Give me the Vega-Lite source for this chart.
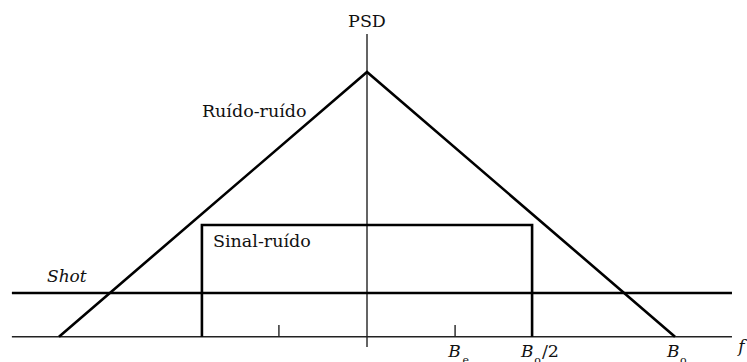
{
  "$schema": "https://vega.github.io/schema/vega-lite/v6.json",
  "width": 747,
  "height": 362,
  "autosize": "none",
  "padding": 0,
  "background": "white",
  "config": {"view": {"stroke": null}},
  "datasets": {
    "axes": [
      {"part": "f-axis", "x": -1.153, "x2": 1.185, "y": 0, "y2": 0},
      {"part": "psd-axis", "x": 0, "x2": 0, "y": -0.039, "y2": 1.144},
      {"part": "tick-neg", "x": -0.286, "x2": -0.286, "y": 0, "y2": 0.044},
      {"part": "tick-Be", "x": 0.286, "x2": 0.286, "y": 0, "y2": 0.044}
    ],
    "curves": [
      {"series": "Ruído-ruído", "ord": 0, "x": -1.0, "y": 0},
      {"series": "Ruído-ruído", "ord": 1, "x": 0, "y": 1.0},
      {"series": "Ruído-ruído", "ord": 2, "x": 1.0, "y": 0},
      {"series": "Sinal-ruído", "ord": 0, "x": -0.536, "y": 0},
      {"series": "Sinal-ruído", "ord": 1, "x": -0.536, "y": 0.422},
      {"series": "Sinal-ruído", "ord": 2, "x": 0.536, "y": 0.422},
      {"series": "Sinal-ruído", "ord": 3, "x": 0.536, "y": 0},
      {"series": "Shot", "ord": 0, "x": -1.153, "y": 0.165},
      {"series": "Shot", "ord": 1, "x": 1.185, "y": 0.165}
    ],
    "title": [
      {"text": "PSD", "x": 0, "y": 1.17}
    ],
    "labels": [
      {"text": "Ruído-ruído", "x": -0.536, "y": 0.83},
      {"text": "Sinal-ruído", "x": -0.5, "y": 0.339},
      {"text": "/2", "x": 0.568, "y": -0.077}
    ],
    "italics": [
      {"text": "Shot", "x": -1.039, "y": 0.207},
      {"text": "B", "x": 0.264, "y": -0.077},
      {"text": "B", "x": 0.5, "y": -0.077},
      {"text": "B", "x": 0.974, "y": -0.077},
      {"text": "f", "x": 1.205, "y": -0.058}
    ],
    "subs": [
      {"text": "e", "x": 0.31, "y": -0.104},
      {"text": "o", "x": 0.543, "y": -0.104},
      {"text": "o", "x": 1.016, "y": -0.104}
    ]
  },
  "layer": [
    {
      "data": {"name": "axes"},
      "mark": {"type": "rule", "color": "#222", "strokeWidth": 1.4},
      "encoding": {
        "x": {"field": "x", "type": "quantitative", "scale": {"domain": [-1.1916, 1.2338], "nice": false, "zero": false}, "axis": null},
        "x2": {"field": "x2"},
        "y": {"field": "y", "type": "quantitative", "scale": {"domain": [-0.0956, 1.272], "nice": false, "zero": false}, "axis": null},
        "y2": {"field": "y2"}
      }
    },
    {
      "data": {"name": "curves"},
      "mark": {"type": "line", "color": "black", "strokeWidth": 2.6, "strokeJoin": "miter"},
      "encoding": {
        "x": {"field": "x", "type": "quantitative"},
        "y": {"field": "y", "type": "quantitative"},
        "detail": {"field": "series"},
        "order": {"field": "ord"}
      }
    },
    {
      "data": {"name": "title"},
      "mark": {"type": "text", "font": "DejaVu Serif", "fontSize": 17.5, "baseline": "alphabetic", "align": "center", "color": "#111"},
      "encoding": {
        "x": {"field": "x", "type": "quantitative"},
        "y": {"field": "y", "type": "quantitative"},
        "text": {"field": "text"}
      }
    },
    {
      "data": {"name": "labels"},
      "mark": {"type": "text", "font": "DejaVu Serif", "fontSize": 17.5, "baseline": "alphabetic", "align": "left", "color": "#111"},
      "encoding": {
        "x": {"field": "x", "type": "quantitative"},
        "y": {"field": "y", "type": "quantitative"},
        "text": {"field": "text"}
      }
    },
    {
      "data": {"name": "italics"},
      "mark": {"type": "text", "font": "DejaVu Serif", "fontStyle": "italic", "fontSize": 17, "baseline": "alphabetic", "align": "left", "color": "#111"},
      "encoding": {
        "x": {"field": "x", "type": "quantitative"},
        "y": {"field": "y", "type": "quantitative"},
        "text": {"field": "text"}
      }
    },
    {
      "data": {"name": "subs"},
      "mark": {"type": "text", "font": "DejaVu Serif", "fontSize": 11, "baseline": "alphabetic", "align": "left", "color": "#111"},
      "encoding": {
        "x": {"field": "x", "type": "quantitative"},
        "y": {"field": "y", "type": "quantitative"},
        "text": {"field": "text"}
      }
    }
  ]
}
